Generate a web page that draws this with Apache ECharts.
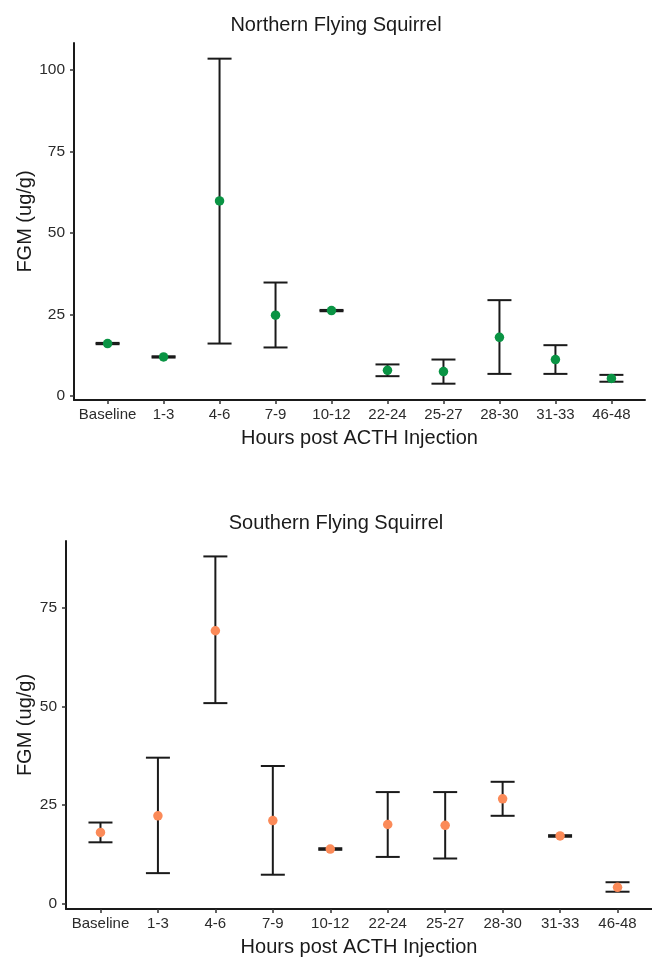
<!DOCTYPE html>
<html>
<head>
<meta charset="utf-8">
<script src="https://cdn.jsdelivr.net/npm/echarts@6/dist/echarts.min.js"></script>
<style>
    html, body { margin: 0; padding: 0; background: #fff; }
    #chart { width: 652px; height: 958px; }
</style>
</head>
<body>
<div id="chart"></div>
<script>
// 类别
const categories = ["Baseline", "1-3", "4-6", "7-9", "10-12", "22-24", "25-27", "28-30", "31-33", "46-48"];

// Northern Flying Squirrel
const northMean = [16.1, 12.0, 59.8, 24.8, 26.2, 7.9, 7.5, 18.0, 11.2, 5.4];
const northLower = [15.9, 11.8, 16.1, 14.9, 26.0, 6.1, 3.8, 6.8, 6.8, 4.4];
const northUpper = [16.3, 12.2, 103.4, 34.8, 26.4, 9.7, 11.2, 29.4, 15.6, 6.5];

// Southern Flying Squirrel
const southMean = [18.1, 22.3, 69.1, 21.1, 13.9, 20.1, 19.9, 26.6, 17.2, 4.2];
const southLower = [15.6, 7.8, 50.8, 7.4, 13.7, 11.9, 11.5, 22.3, 17.0, 3.1];
const southUpper = [20.6, 37.0, 87.9, 34.9, 14.1, 28.3, 28.3, 30.9, 17.4, 5.5];

const northTicks = [0, 25, 50, 75, 100];
const southTicks = [0, 25, 50, 75];
const catIdx = categories.map((c, i) => i);

const font = "Liberation Sans, Arial, sans-serif";

// 误差线
function errorSeries(idx, lower, upper) {
    return {
        type: 'custom',
        xAxisIndex: idx,
        yAxisIndex: idx,
        data: catIdx.map(i => [i, lower[i], upper[i]]),
        renderItem: (params, api) => {
            let x = api.value(0);
            let lo = api.coord([x, api.value(1)]);
            let hi = api.coord([x, api.value(2)]);
            let w = 12;
            let style = { stroke: '#1a1a1a', lineWidth: 2 };
            return {
                type: 'group',
                children: [
                    { type: 'line', shape: { x1: lo[0], y1: lo[1], x2: hi[0], y2: hi[1] }, style },
                    { type: 'line', shape: { x1: lo[0] - w, y1: lo[1], x2: lo[0] + w, y2: lo[1] }, style },
                    { type: 'line', shape: { x1: hi[0] - w, y1: hi[1], x2: hi[0] + w, y2: hi[1] }, style },
                ]
            };
        },
        z: 2
    };
}

function pointSeries(idx, mean, color) {
    return {
        type: 'scatter',
        xAxisIndex: idx,
        yAxisIndex: idx,
        data: catIdx.map(i => [i, mean[i]]),
        symbolSize: 9.5,
        itemStyle: { color: color, opacity: 1 },
        z: 3
    };
}

function xAxis(idx) {
    return {
        type: 'value',
        gridIndex: idx,
        min: -0.6,
        max: 9.6,
        name: 'Hours post ACTH Injection',
        nameLocation: 'middle',
        nameGap: 28,
        nameMoveOverlap: false,
        nameTextStyle: { fontSize: 20, color: '#1a1a1a', fontFamily: font },
        splitLine: { show: false },
        axisLine: { onZero: false, lineStyle: { color: '#1a1a1a', width: 2 } },
        axisTick: { customValues: catIdx, length: 4, lineStyle: { color: '#333', width: 1.5 } },
        axisLabel: {
            customValues: catIdx,
            margin: 7,
            fontSize: 15,
            color: '#2b2b2b',
            fontFamily: font,
            formatter: v => categories[Math.round(v)]
        }
    };
}

function yAxis(idx, min, max, ticks, gap) {
    return {
        type: 'value',
        gridIndex: idx,
        min: min,
        max: max,
        name: 'FGM (ug/g)',
        nameLocation: 'middle',
        nameGap: gap,
        nameMoveOverlap: false,
        nameTextStyle: { fontSize: 20, color: '#1a1a1a', fontFamily: font },
        splitLine: { show: false },
        axisLine: { show: true, onZero: false, lineStyle: { color: '#1a1a1a', width: 2 } },
        axisTick: { show: true, customValues: ticks, length: 4, lineStyle: { color: '#333', width: 1.5 } },
        axisLabel: { customValues: ticks, margin: 9, fontSize: 15.5, color: '#2b2b2b', fontFamily: font }
    };
}

let chart = echarts.init(document.getElementById('chart'), null, { renderer: 'canvas' });
chart.setOption({
    backgroundColor: '#fff',
    animation: false,
    title: [
        { text: 'Northern Flying Squirrel', left: 331, top: 10, textAlign: 'center',
          textStyle: { fontSize: 20, fontWeight: 'normal', color: '#1a1a1a', fontFamily: font } },
        { text: 'Southern Flying Squirrel', left: 331, top: 508, textAlign: 'center',
          textStyle: { fontSize: 20, fontWeight: 'normal', color: '#1a1a1a', fontFamily: font } }
    ],
    grid: [
        { left: 74, top: 43, width: 571, height: 357 },
        { left: 66, top: 541, width: 597, height: 368 }
    ],
    xAxis: [xAxis(0), xAxis(1)],
    yAxis: [yAxis(0, -1.2, 108.2, northTicks, 39), yAxis(1, -1.27, 91.8, southTicks, 31)],
    series: [
        errorSeries(0, northLower, northUpper),
        pointSeries(0, northMean, '#0a9444'),
        errorSeries(1, southLower, southUpper),
        pointSeries(1, southMean, '#fb8a58')
    ]
});
</script>
</body>
</html>
